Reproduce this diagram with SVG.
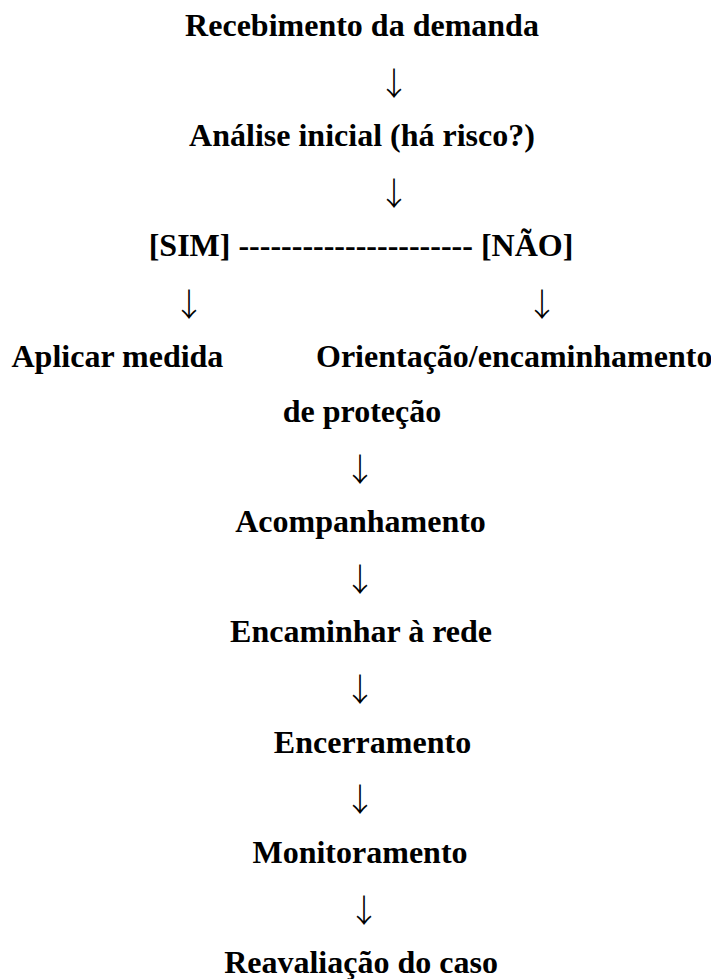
<svg xmlns="http://www.w3.org/2000/svg" width="711" height="979" viewBox="0 0 711 979">
<style>
.t{font-family:"Liberation Serif","Times New Roman",serif;font-weight:bold;font-size:32px;fill:#000;text-anchor:middle}
.a{font-family:"Noto Sans CJK SC","Liberation Serif",sans-serif;font-weight:300;font-size:32px;fill:#000;text-anchor:middle}
</style>
<rect width="711" height="979" fill="#fff"/>
<g id="n-recebimento"><text class="t" x="362" y="36">Recebimento da demanda</text></g>
<g id="n-analise"><text class="t" x="362" y="146">Análise inicial (há risco?)</text></g>
<g id="n-decisao"><text class="t" x="361" y="256">[SIM] ---------------------- [NÃO]</text></g>
<g id="n-aplicar"><text class="t" x="11.5" y="366.5" style="text-anchor:start">Aplicar medida</text><text class="t" x="362" y="421.5">de proteção</text></g>
<g id="n-orientacao"><text class="t" x="316" y="366.5" style="text-anchor:start">Orientação/encaminhamento</text></g>
<g id="n-acompanhamento"><text class="t" x="360.5" y="532">Acompanhamento</text></g>
<g id="n-encaminhar"><text class="t" x="361" y="642">Encaminhar à rede</text></g>
<g id="n-encerramento"><text class="t" x="372.5" y="752.5">Encerramento</text></g>
<g id="n-monitoramento"><text class="t" x="360" y="862.5">Monitoramento</text></g>
<g id="n-reavaliacao"><text class="t" x="361" y="973">Reavaliação do caso</text></g>
<g id="connectors">
<text class="a" x="394" y="95">↓</text>
<text class="a" x="394" y="205">↓</text>
<text class="a" x="189" y="315.5">↓</text>
<text class="a" x="542" y="315.5">↓</text>
<text class="a" x="360" y="481">↓</text>
<text class="a" x="360" y="591">↓</text>
<text class="a" x="360" y="701">↓</text>
<text class="a" x="360" y="811">↓</text>
<text class="a" x="364" y="921.5">↓</text>
</g>
</svg>
